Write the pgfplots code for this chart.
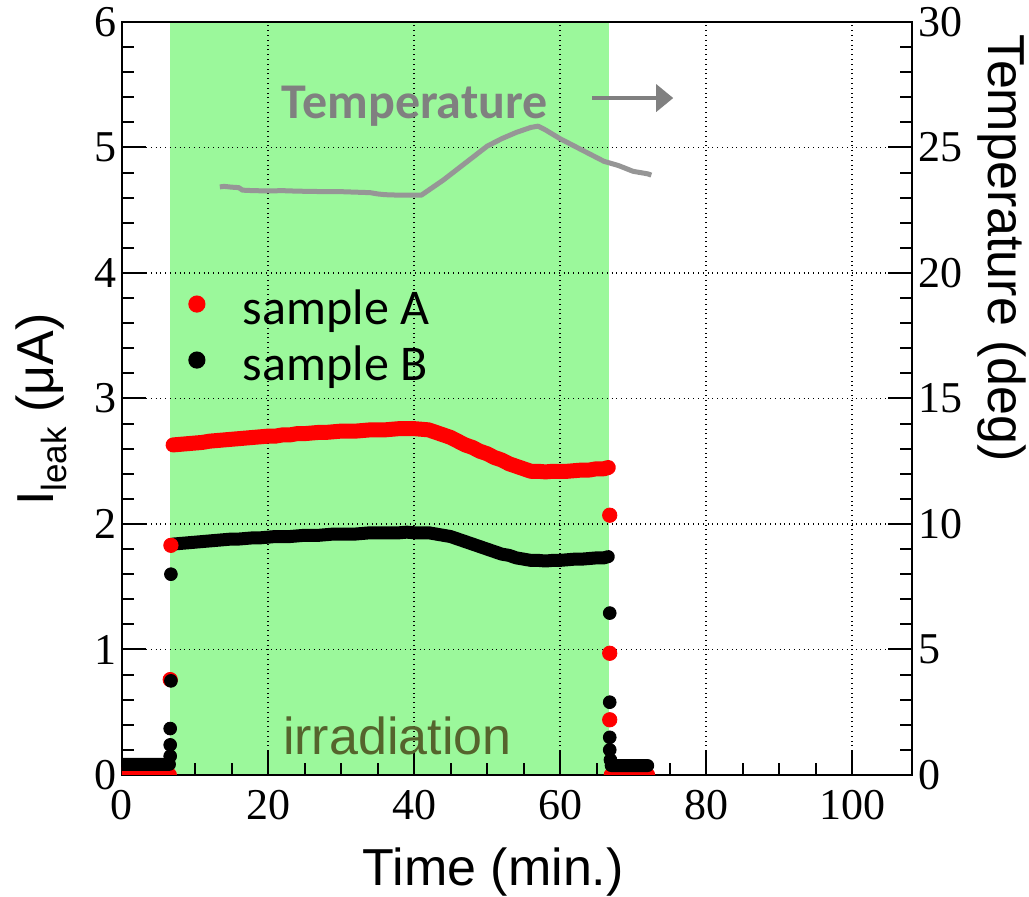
\documentclass[border=0pt]{standalone}
\usepackage{fontspec}
\usepackage{pgfplots}
\pgfplotsset{compat=1.18}
\usetikzlibrary{arrows.meta}
\setmainfont{Liberation Sans}
\newfontfamily\rootfont{Liberation Serif}
\newfontfamily\calibri{Carlito}
\definecolor{irrgreen}{RGB}{155,248,155}
\definecolor{irrtext}{RGB}{85,100,45}
\definecolor{tempgray}{RGB}{150,150,150}
\definecolor{arrowgray}{RGB}{128,128,128}

% sample A (red), I_leak in uA: continuous band, nan breaks the line
\pgfplotstableread{
x y
0 0.0
6.5 0.0
6.6 nan
7 2.63
8 2.635
9 2.64
10 2.645
11 2.65
12 2.66
13 2.665
14 2.67
15 2.675
16 2.68
17 2.685
18 2.69
19 2.695
20 2.70
21 2.70
22 2.71
23 2.71
24 2.72
25 2.72
26 2.725
27 2.73
28 2.73
29 2.735
30 2.74
31 2.74
32 2.74
33 2.745
34 2.75
35 2.75
36 2.75
37 2.755
38 2.76
39 2.76
40 2.76
41 2.755
42 2.75
43 2.73
44 2.71
45 2.69
46 2.66
47 2.63
48 2.61
49 2.58
50 2.56
51 2.53
52 2.51
53 2.48
54 2.46
55 2.44
56 2.42
57 2.42
58 2.415
59 2.42
60 2.42
61 2.42
62 2.425
63 2.43
64 2.43
65 2.44
66 2.44
66.6 2.45
66.7 nan
67 0.0
72 0.0
}\bandA

% sample A: single readings while the current switches
\pgfplotstableread{
x y
6.6 0.76
6.7 1.83
66.8 2.07
66.8 0.97
66.8 0.44
}\stepsA

% sample B (black)
\pgfplotstableread{
x y
0 0.085
6.5 0.085
6.55 nan
7 1.84
8 1.845
9 1.85
10 1.855
11 1.86
12 1.865
13 1.87
14 1.875
15 1.88
16 1.88
17 1.885
18 1.89
19 1.89
20 1.895
21 1.90
22 1.90
23 1.90
24 1.905
25 1.91
26 1.91
27 1.91
28 1.915
29 1.92
30 1.92
31 1.92
32 1.92
33 1.925
34 1.93
35 1.93
36 1.93
37 1.93
38 1.93
39 1.935
40 1.93
41 1.93
42 1.93
43 1.92
44 1.91
45 1.90
46 1.88
47 1.86
48 1.84
49 1.82
50 1.80
51 1.78
52 1.76
53 1.75
54 1.73
55 1.72
56 1.71
57 1.71
58 1.705
59 1.71
60 1.71
61 1.715
62 1.72
63 1.72
64 1.725
65 1.73
66 1.73
66.6 1.74
66.7 nan
67 0.075
72 0.075
}\bandB

\pgfplotstableread{
x y
6.6 0.15
6.6 0.24
6.6 0.37
6.7 0.75
6.7 1.60
66.8 1.29
66.8 0.58
66.8 0.30
66.8 0.20
66.9 0.12
}\stepsB

% temperature (deg), right axis
\pgfplotstableread{
x t
13.4 23.43
14 23.45
15 23.42
16 23.40
16.5 23.30
18 23.28
20 23.27
22 23.28
24 23.26
26 23.25
28 23.24
30 23.24
32 23.22
34 23.20
35 23.15
36 23.12
38 23.10
40 23.10
41 23.10
42 23.30
44 23.70
46 24.15
48 24.60
50 25.05
52 25.35
54 25.60
56 25.80
57 25.85
58 25.70
60 25.35
62 25.05
64 24.75
66 24.45
68 24.28
70 24.05
71 24.00
72 23.95
72.5 23.90
}\temperature

\begin{document}
\begin{tikzpicture}
\begin{axis}[
  at={(0pt,0pt)}, anchor=south west,
  scale only axis, width=395pt, height=376.5pt,
  set layers,
  xmin=0, xmax=108.2, ymin=0, ymax=6,
  xtick={0,20,...,100}, minor x tick num=3,
  ytick={0,1,...,6}, minor y tick num=4,
  xtick pos=lower, ytick pos=lower,
  tick align=inside,
  major tick length=12pt, minor tick length=6pt,
  axis line style={line width=1pt},
  every tick/.style={black, line width=1pt},
  grid=major,
  major grid style={black, dotted, line width=0.7pt},
  unbounded coords=jump,
  /pgf/number format/assume math mode=true,
  tick label style={font=\rootfont\fontsize{22}{22}\selectfont},
  xticklabel style={inner sep=0pt, yshift=-7.5pt},
  yticklabel style={inner sep=0pt, xshift=-2.5pt},
  every axis x label/.style={at={(axis description cs:0.47,-0.1474)}, anchor=base},
  every axis y label/.style={at={(axis description cs:-0.1025,0.485)}, anchor=center, rotate=90},
  label style={font=\fontsize{26}{26}\selectfont},
  xlabel={Time (min.)},
  ylabel={I\raisebox{-6.5pt}{\fontsize{17.5}{17.5}\selectfont leak} (μA)},
  legend cell align=left,
  legend style={draw=none, fill=none, at={(axis cs:9.08,3.88)}, anchor=north west,
    inner sep=0pt, outer sep=0pt,
    nodes={inner sep=0pt, text height=18pt, text depth=6pt, font=\calibri\fontsize{25}{25}\selectfont},
    row sep=4pt, /tikz/every odd column/.append style={column sep=18.7pt}},
]
\addplot[draw=none, fill=irrgreen, on layer=axis background, forget plot]
  coordinates {(6.6,6) (66.7,6)} \closedcycle;
\addplot[red, line width=7.5pt, line cap=round, line join=round,
  legend image code/.code={\path[fill=red, draw=none] (0pt,4pt) circle (4.3pt);}]
  table[x=x, y=y] {\bandA};
\addlegendentry{sample A}
\addplot[black, line width=6.5pt, line cap=round, line join=round,
  legend image code/.code={\path[fill=black, draw=none] (0pt,4pt) circle (4.3pt);}]
  table[x=x, y=y] {\bandB};
\addlegendentry{sample B}
\addplot[only marks, mark=*, mark size=3.6pt, red, forget plot] table[x=x, y=y] {\stepsA};
\addplot[only marks, mark=*, mark size=3.2pt, black, forget plot] table[x=x, y=y] {\stepsB};
\node[font=\fontsize{26}{26}\selectfont, text=irrtext, anchor=base] at (axis cs:37.7,0.16) {irradiation};
\node[font=\calibri\bfseries\fontsize{25}{25}\selectfont, text=arrowgray, anchor=base] at (axis cs:40.1,5.235) {Temperature};
\draw[arrowgray, line width=1.7pt, -{Triangle[length=8.5pt,width=13.5pt]}] (axis cs:64.4,5.394) -- (axis cs:75.5,5.394);
\end{axis}
\begin{axis}[
  at={(0pt,0pt)}, anchor=south west,
  scale only axis, width=395pt, height=376.5pt,
  xmin=0, xmax=108.2, ymin=0, ymax=30,
  axis x line=none, axis y line*=right,
  ytick={0,5,...,30}, minor y tick num=4,
  tick align=inside,
  major tick length=12pt, minor tick length=6pt,
  axis line style={line width=1pt},
  every tick/.style={black, line width=1pt},
  /pgf/number format/assume math mode=true,
  tick label style={font=\rootfont\fontsize{22}{22}\selectfont},
  yticklabel style={inner sep=0pt, xshift=3pt},
  every axis y label/.style={at={(axis description cs:1.114,0.70)}, anchor=center, rotate=-90},
  label style={font=\fontsize{26}{26}\selectfont},
  ylabel={Temperature (deg)},
]
\addplot[tempgray, line width=2.5pt, line join=round] table[x=x, y=t] {\temperature};
\end{axis}
\pgfresetboundingbox
\useasboundingbox (-61pt,-61pt) rectangle (453.5pt,387.5pt);
\end{tikzpicture}
\end{document}
